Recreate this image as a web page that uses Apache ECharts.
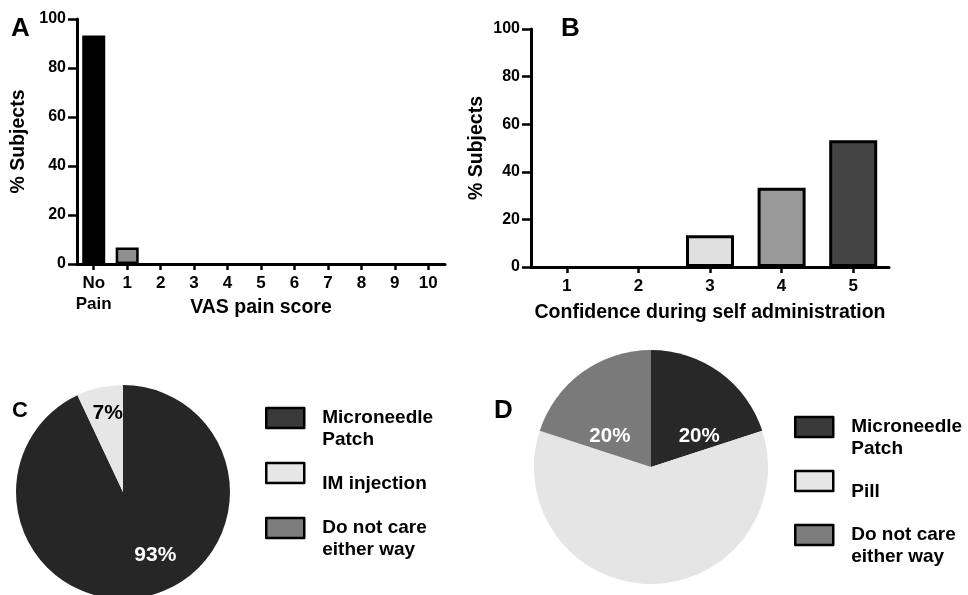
<!DOCTYPE html>
<html><head><meta charset="utf-8">
<script src="https://cdn.jsdelivr.net/npm/echarts@6/dist/echarts.min.js"></script>
<style>html,body{margin:0;padding:0;background:#fff}#c{width:968px;height:595px}</style>
</head><body><div id="c"></div>
<script>
// ---- data ----
const painCategories = ['No\nPain','1','2','3','4','5','6','7','8','9','10'];
const painValues = [93.3, 6.7, 0, 0, 0, 0, 0, 0, 0, 0, 0];
const confCategories = ['1','2','3','4','5'];
const confValues = [0, 0, 13.3, 33.3, 53.3];
const prefNamesC = ['Microneedle\nPatch', 'IM injection', 'Do not care\neither way'];
const prefValuesC = [93, 7, 0];
const prefNamesD = ['Microneedle\nPatch', 'Pill', 'Do not care\neither way'];
const prefValuesD = [20, 60, 20];
const yMin = 0, yMax = 100, yStep = 20;

// ---- styles ----
const FONT = '"Liberation Sans", Arial, Helvetica, sans-serif';
const painColors = ['#000000','#8f8f8f','#8f8f8f','#8f8f8f','#8f8f8f','#8f8f8f','#8f8f8f','#8f8f8f','#8f8f8f','#8f8f8f','#8f8f8f'];
const confColors = ['#ffffff','#ffffff','#e0e0e0','#999999','#444444'];
const pieColorsC = ['#262626','#e6e6e6','#777777'];
const pieColorsD = ['#282828','#e5e5e5','#7a7a7a'];
const legendColors = ['#3a3a3a','#e6e6e6','#7d7d7d'];
const labelShowC = [true, true, false];
const labelColorC = ['#ffffff','#000000','#ffffff'];
const labelOffC = [[20,8],[-3,-24],[0,0]];
const labelShowD = [true, false, true];
const labelColorD = ['#ffffff','#000000','#ffffff'];
const labelOffD = [[12,19],[0,0],[-5,19]];

const bold = (size) => ({fontFamily: FONT, fontWeight: 'bold', fontSize: size, color: '#000'});

function yAxisCfg(gridIndex, nameGap) {
  return {
    type: 'value', gridIndex, min: yMin, max: yMax, interval: yStep,
    name: '% Subjects', nameLocation: 'middle', nameGap, nameRotate: 90, nameMoveOverlap: false,
    nameTextStyle: bold(19.5),
    axisLine: {show: true, lineStyle: {color: '#000', width: 3}},
    axisTick: {show: true, length: 9, lineStyle: {color: '#000', width: 2.5}},
    axisLabel: Object.assign(bold(16), {margin: 11}),
    splitLine: {show: false}
  };
}
function xAxisCfg(gridIndex, cats, name, nameGap) {
  return {
    type: 'category', gridIndex, data: cats,
    name, nameLocation: 'middle', nameGap, nameMoveOverlap: false, nameTextStyle: bold(19.5),
    axisLine: {show: true, lineStyle: {color: '#000', width: 3}},
    axisTick: {show: true, alignWithLabel: true, length: 6, lineStyle: {color: '#000', width: 2.5}},
    axisLabel: Object.assign(bold(17), {margin: 9, interval: 0, lineHeight: 21}),
    splitLine: {show: false}
  };
}
function pieSeries(center, radius, names, values, colors, show, lcolors, offs, fsize) {
  return {
    type: 'pie', center, radius, startAngle: 90, clockwise: true,
    silent: true, avoidLabelOverlap: false, labelLine: {show: false},
    label: Object.assign(bold(fsize), {position: 'inside', formatter: p => Math.round(p.percent) + '%'}),
    labelLayout: p => ({dx: offs[p.dataIndex][0], dy: offs[p.dataIndex][1]}),
    itemStyle: {borderWidth: 0},
    emphasis: {disabled: true},
    data: names.map((n, i) => ({
      name: n, value: values[i],
      itemStyle: {color: colors[i]},
      label: {show: show[i], color: lcolors[i]}
    }))
  };
}
function legendCfg(left, top, names, gap) {
  return {
    orient: 'vertical', left, top, padding: 0, itemWidth: 38, itemHeight: 20, itemGap: gap,
    icon: 'rect', selectedMode: false,
    formatter: n => '\n' + n,
    data: names.map((n, i) => ({name: n, itemStyle: {color: legendColors[i], borderColor: '#000', borderWidth: 2.5}})),
    textStyle: Object.assign(bold(19), {lineHeight: 22, padding: [0, 0, 0, 13]})
  };
}
function letter(t, left, top, size) {
  return {text: t, left, top, padding: 0, textStyle: bold(size)};
}
function barData(values, colors) {
  return values.map((v, i) => ({value: v, itemStyle: v === 0 ? {color: colors[i], borderWidth: 0} : {color: colors[i]}}));
}

const chart = echarts.init(document.getElementById('c'));
chart.setOption({
  animation: false,
  backgroundColor: '#ffffff',
  title: [letter('A', 11, 16, 26), letter('B', 561, 16, 26), letter('C', 12, 400, 22), letter('D', 494, 398, 26)],
  grid: [
    {left: 77, top: 19, width: 368, height: 245},
    {left: 531, top: 29, width: 358, height: 238}
  ],
  xAxis: [
    xAxisCfg(0, painCategories, 'VAS pain score', 34),
    xAxisCfg(1, confCategories, 'Confidence during self administration', 36)
  ],
  yAxis: [yAxisCfg(0, 48), yAxisCfg(1, 44)],
  legend: [
    legendCfg(265, 385, prefNamesC, 0),
    legendCfg(794, 394, prefNamesD, -1)
  ],
  series: [
    {type: 'bar', xAxisIndex: 0, yAxisIndex: 0, barWidth: 23,
     itemStyle: {borderColor: '#000', borderWidth: 2.5},
     data: barData(painValues, painColors)},
    {type: 'bar', xAxisIndex: 1, yAxisIndex: 1, barWidth: 48,
     itemStyle: {borderColor: '#000', borderWidth: 3},
     data: barData(confValues, confColors)},
    pieSeries([123, 492], 107, prefNamesC, prefValuesC, pieColorsC, labelShowC, labelColorC, labelOffC, 21),
    pieSeries([651, 467], 117, prefNamesD, prefValuesD, pieColorsD, labelShowD, labelColorD, labelOffD, 20.5)
  ]
});
</script>
</body></html>
